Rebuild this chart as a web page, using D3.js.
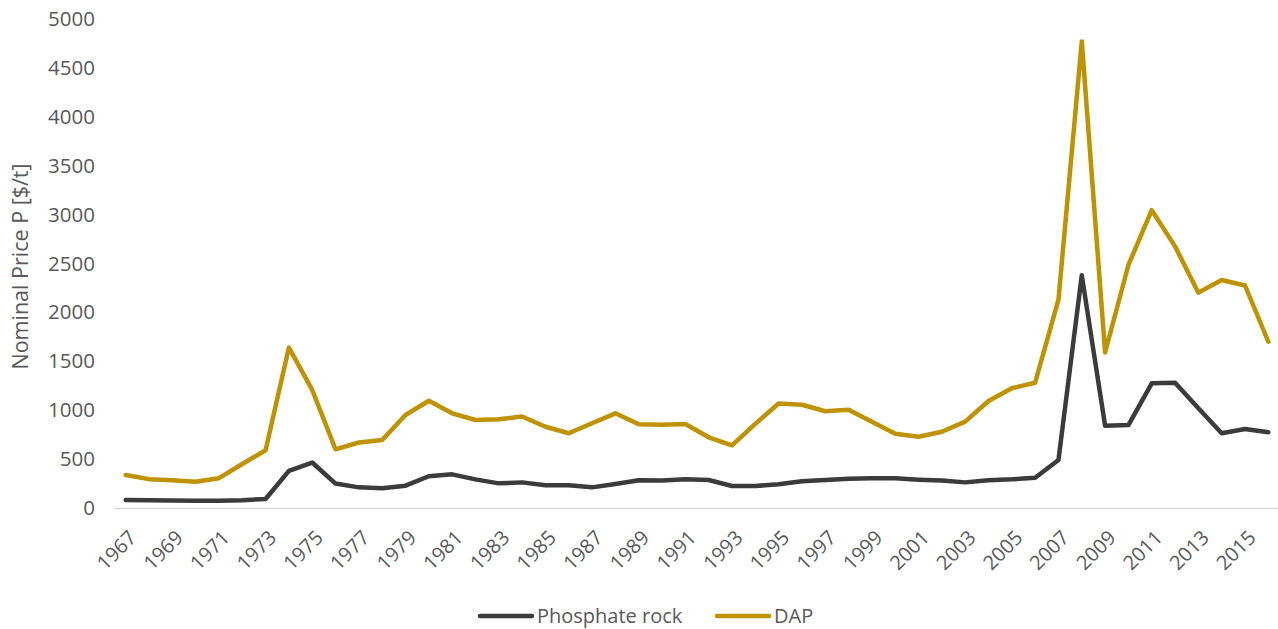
<!DOCTYPE html>
<html>
<head>
<meta charset="utf-8">
<script src="https://cdn.jsdelivr.net/npm/d3@7"></script>
<style>
  html, body { margin: 0; padding: 0; background: #fff; }
  svg { display: block; }
  text { font-family: "Open Sans", "Noto Sans", sans-serif; fill: #595959; }
</style>
</head>
<body>
<svg id="chart" width="1278" height="629"></svg>
<script>
const years = d3.range(1967, 2017).map(String);
const tickLabels = years.filter((d, i) => i % 2 === 0);
const yTicks = [0, 500, 1000, 1500, 2000, 2500, 3000, 3500, 4000, 4500, 5000];
const seriesNames = ["Phosphate rock", "DAP"];
const phosphateRock = [82, 78, 76, 75, 75, 80, 92, 380, 465, 250,
  211, 201, 228, 325, 344, 293, 252, 262, 232, 232,
  211, 245, 283, 280, 293, 286, 225, 225, 242, 273,
  286, 300, 305, 305, 290, 280, 262, 283, 293, 310,
  491, 2380, 842, 848, 1275, 1281, 1019, 764, 808, 774];
const dap = [337, 295, 283, 268, 305, 450, 590, 1640, 1207, 600,
  670, 695, 951, 1097, 968, 900, 907, 935, 831, 764,
  866, 968, 856, 850, 859, 723, 640, 860, 1068, 1056,
  989, 1005, 883, 760, 729, 780, 883, 1094, 1224, 1281,
  2130, 4770, 1590, 2485, 3045, 2675, 2202, 2331, 2275, 1700];
const colors = ["#3b3b3b", "#c09200"];
const yTitle = "Nominal Price P [$/t]";

(function () {
const svg = d3.select("#chart");
const mLeft = 114, mRight = 1280, mTop = 19, mBottom = 508;

const x = d3.scaleBand().domain(years).range([mLeft, mRight]).padding(0);
const y = d3.scaleLinear().domain([0, 5000]).range([mBottom, mTop]);

// y axis labels
const yAxis = svg.append("g").attr("transform", `translate(${mLeft - 19},0)`)
  .call(d3.axisLeft(y).tickValues(yTicks).tickSize(0).tickPadding(0).tickFormat(d3.format("d")));
yAxis.select(".domain").remove();
yAxis.selectAll("text").style("font-size", "20.5px").attr("fill", "#595959")
  .style("font-family", "'Open Sans', sans-serif");

// x axis
const xAxis = svg.append("g").attr("transform", `translate(0,${mBottom})`)
  .call(d3.axisBottom(x).tickValues(tickLabels).tickSize(0));
xAxis.select(".domain").attr("stroke", "#d9d9d9").attr("stroke-width", 1.5);
xAxis.selectAll("text")
  .style("font-size", "20px").attr("fill", "#595959")
  .style("font-family", "'Open Sans', sans-serif")
  .attr("text-anchor", "end")
  .attr("dy", null)
  .attr("y", 0)
  .attr("transform", "translate(12,31) rotate(-45)");

// y title
svg.append("text")
  .attr("transform", `translate(28,${(mTop + mBottom) / 2 + 3}) rotate(-90)`)
  .attr("text-anchor", "middle")
  .style("font-size", "21.5px")
  .text(yTitle);

// lines
const data = [phosphateRock, dap];
const line = d3.line()
  .x((d, i) => x(years[i]) + x.bandwidth() / 2)
  .y(d => y(d));
data.forEach((vals, k) => {
  svg.append("path")
    .datum(vals)
    .attr("fill", "none")
    .attr("stroke", colors[k])
    .attr("stroke-width", 4.5)
    .attr("stroke-linejoin", "round")
    .attr("stroke-linecap", "round")
    .attr("d", line);
});

// legend
const legend = svg.append("g").attr("transform", "translate(0,616)");
const legPos = [480, 717];
seriesNames.forEach((name, k) => {
  const g = legend.append("g").attr("transform", `translate(${legPos[k]},0)`);
  g.append("line").attr("x1", 0).attr("x2", 52).attr("y1", 0).attr("y2", 0)
    .attr("stroke", colors[k]).attr("stroke-width", 4.5).attr("stroke-linecap", "round");
  g.append("text").attr("x", 57).attr("y", 0).attr("dy", "0.35em")
    .style("font-size", "20px").text(name);
});
})();
</script>
</body>
</html>
